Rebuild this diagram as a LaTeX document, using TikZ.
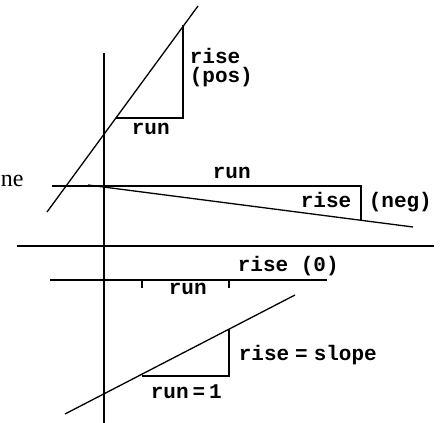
\documentclass[tikz,border=0pt]{standalone}
\usepackage{fontspec}
\setmainfont{Liberation Serif}
\newfontfamily\pix{Liberation Mono}
\begin{document}
\begin{tikzpicture}[x=1pt,y=-1pt,line width=1.6pt,
  lbl/.style={font=\pix\bfseries\fontsize{21}{21}\selectfont,inner sep=0pt,anchor=base west},
  slant/.style={line width=1.3pt}]
\useasboundingbox (0,0) rectangle (442,423);
% axes
\coordinate (ytop) at (104,53); \coordinate (ybot) at (104,423);
\draw (ytop) -- (ybot);
\coordinate (xl) at (17,246); \coordinate (xr) at (434,246);
\draw (xl) -- (xr);
% positive slope
\coordinate (p1) at (47,212); \coordinate (p2) at (198,6);
\draw[slant] (p1) -- (p2);
\coordinate (pa) at (115.5,118); \coordinate (pb) at (183,118); \coordinate (pc) at (183,25);
\draw (pa) -- (pb) -- (pc);
\node[lbl] (rp) at (189,63) {rise};
\node[lbl] (pos) at (189,82) {(pos)};
\node[lbl] (run1) at (131,134) {run};
% negative slope
\coordinate (n0) at (52,186); \coordinate (n1) at (361,186); \coordinate (n2) at (361,221);
\draw (n0) -- (n1) -- (n2);
\coordinate (m1) at (88,185); \coordinate (m2) at (413,227);
\draw[slant] (m1) -- (m2);
\node[lbl] (run2) at (212,178) {run};
\node[lbl] (rn) at (300,207) {rise};
\node[lbl] (neg) at (368,207) {(neg)};
\node[inner sep=0pt,anchor=base west,font=\fontsize{24}{24}\selectfont] (ne) at (0,186) {ne};
% zero slope
\coordinate (z1) at (50,280); \coordinate (z2) at (327,280);
\draw (z1) -- (z2);
\coordinate (t1) at (142,280); \coordinate (t1b) at (142,288);
\coordinate (t2) at (229,280); \coordinate (t2b) at (229,288);
\draw[line width=1.3pt] (t1) -- (t1b) (t2) -- (t2b);
\node[lbl] (r0) at (237,271) {rise (0)};
\node[lbl] (run3) at (168,294) {run};
% unit run
\coordinate (s1) at (65,414); \coordinate (s2) at (295,295);
\draw[slant] (s1) -- (s2);
\coordinate (sa) at (142,376); \coordinate (sb) at (229,376); \coordinate (sc) at (229,329);
\draw (sa) -- (sb) -- (sc);
\node[lbl] (rs) at (238,360) {rise\kern6pt=\kern6pt slope};
\node[lbl] (r1) at (150,398) {run\kern4pt=\kern4pt 1};
\end{tikzpicture}
\end{document}
